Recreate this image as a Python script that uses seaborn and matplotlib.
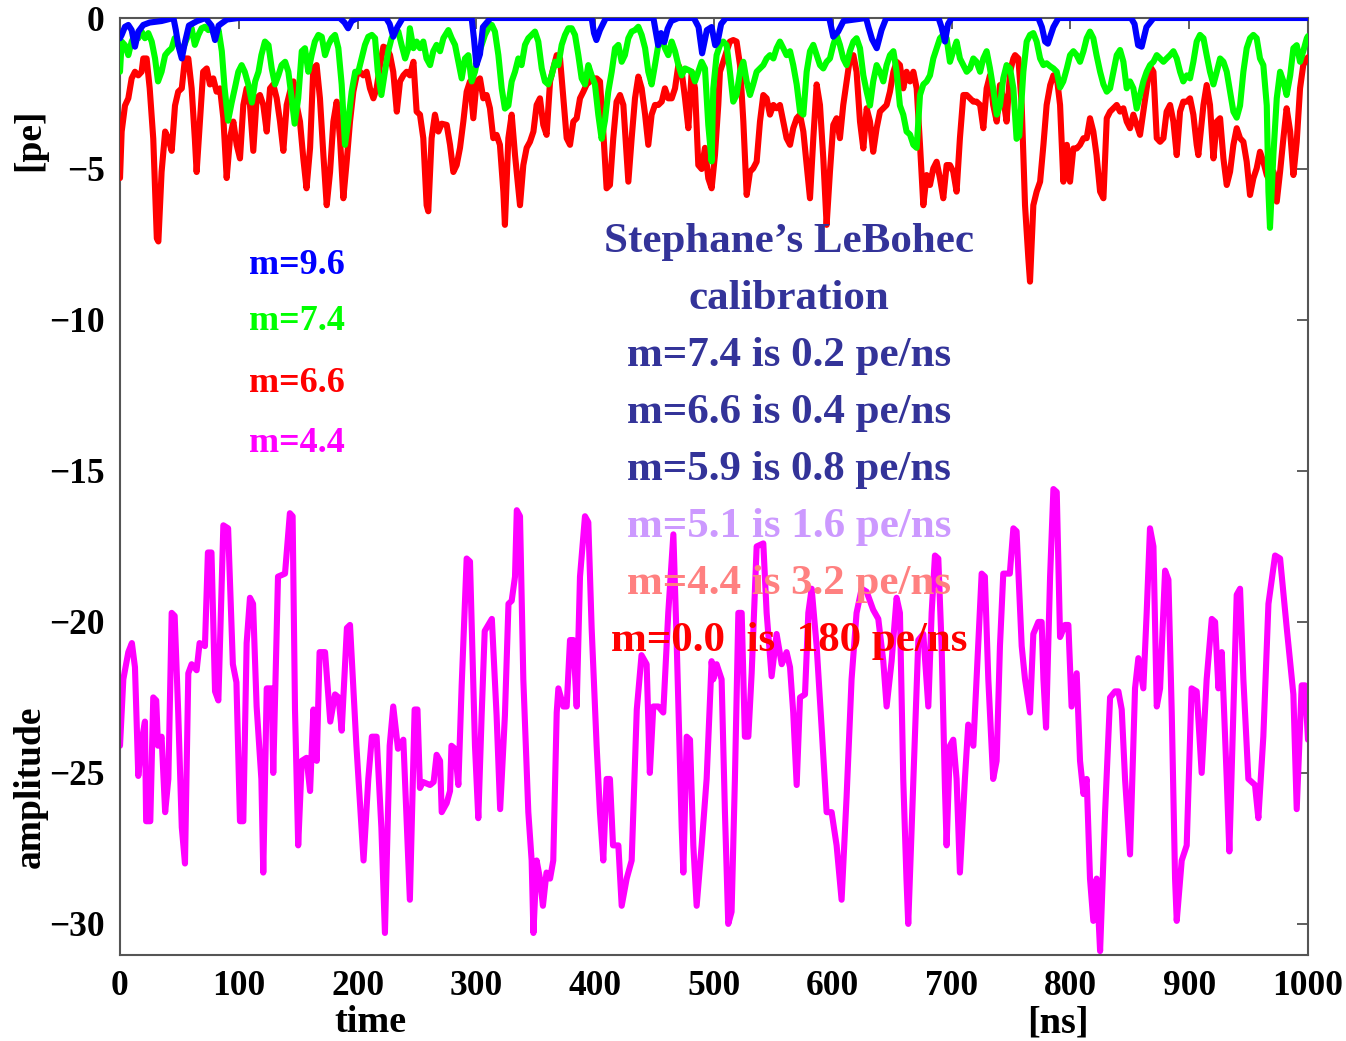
import matplotlib
matplotlib.use("Agg")
import matplotlib.pyplot as plt
import seaborn as sns
import pandas as pd

# ---------------- data ----------------
time_m = [0, 2.8, 7, 10, 12.6, 15.4, 18, 21, 22, 25.5, 28, 30.5, 32, 35, 38, 40.7, 43.5, 46, 49, 52, 54.7, 57.5, 60.3,
          64.5, 67, 71.5, 74, 77, 80, 82.8, 87, 91, 95, 98, 101, 103.8, 106.6, 109.4, 112, 115, 119, 120.6, 123.5,
          127.7, 129, 133, 138.9, 143, 145.3, 147.3, 150, 153, 157, 160, 162.8, 165.6, 168, 172.6, 177, 181, 184,
          186.6, 191, 193.6, 199, 205, 209, 212, 216, 220, 223, 227, 230, 234, 238.5, 244, 248, 250.4, 252.5, 255,
          261, 264, 266.5, 269.4, 270.8, 275, 277.8, 279, 282, 284.8, 287.6, 291.8, 294.6, 296, 298.8, 301.6, 304.4,
          307, 313, 317, 320, 324, 327, 329.7, 332.5, 334, 336.7, 339.5, 343.7, 346.5, 348, 350.7, 353.5, 356, 359,
          362, 364.7, 367.6, 369, 373.2, 376, 378.8, 381.6, 384.4, 387.2, 391.4, 394.2, 397, 401.2, 404, 406.8,
          409.6, 412.4, 415, 419.5, 422.3, 426.5, 430.7, 435, 439, 443.3, 446, 448.9, 453.1, 457.3, 461.5, 465.8,
          468.6, 472.8, 474.2, 477, 479.8, 482.6, 485.4, 489.6, 493.8, 498, 499.4, 502.2, 506.4, 509.2, 512, 514.8,
          517.6, 520.5, 523.3, 526, 528.9, 531.7, 535.9, 541.5, 544.3, 548.5, 552.7, 557, 561.1, 564, 566.7, 569.6,
          572.4, 576.6, 579.4, 582.2, 586.4, 590.6, 594.8, 599, 603.2, 607.4, 611.6, 615.8, 620, 624.3, 628.5, 634,
          638.3, 642.5, 645.3, 649.5, 653.7, 656.5, 659.3, 662, 663.5, 667.8, 672, 676.2, 680.4, 683.2, 686, 688.8,
          691.6, 694.4, 695.8, 698.6, 701.4, 704.2, 707, 711.2, 714, 718.3, 721, 725.3, 728, 730.9, 735, 737.9,
          740.7, 743.5, 749, 752, 754.7, 756.2, 759, 761.8, 766, 768.8, 773, 775.8, 777.3, 779.5, 782.9, 785.7,
          788.5, 791.3, 795.5, 798.3, 801, 805.3, 808.1, 811, 813.7, 816.5, 819.3, 822.1, 825, 829.2, 833.4, 837.6,
          840.4, 843.2, 846, 850.2, 854.4, 857.2, 861.4, 864.2, 867, 869.9, 872.7, 875.5, 879.7, 882.5, 885.3,
          888.1, 889.5, 893.7, 897.9, 902, 906.3, 910.5, 914.7, 919, 921.8, 924.6, 927.4, 931.6, 933.8, 937.2, 940,
          942.8, 945.6, 949.8, 955.4, 958.2, 962.4, 966.7, 972.3, 976.5, 982.1, 987.7, 990.5, 994.7, 997.5, 1000]
amp_m = [-24.1, -21.9, -21.0, -20.7, -21.5, -25.1, -24.0, -23.3, -26.6, -26.6, -22.5, -22.6, -24.1, -23.8, -26.3,
         -25.2, -19.7, -19.8, -23.0, -26.8, -28.0, -21.7, -21.4, -21.6, -20.7, -20.8, -17.7, -17.7, -22.3, -22.6,
         -16.8, -16.9, -21.4, -22.0, -26.6, -26.6, -20.7, -19.2, -19.4, -22.8, -25.2, -28.3, -22.2, -22.2, -25.0,
         -18.5, -18.4, -16.4, -16.5, -22.9, -27.4, -24.6, -24.5, -25.6, -22.9, -24.6, -21.0, -21.0, -23.3, -22.4,
         -22.5, -23.6, -20.2, -20.1, -24.1, -27.9, -25.2, -23.8, -23.8, -26.8, -30.3, -24.1, -22.8, -24.2, -23.9,
         -29.2, -22.9, -22.9, -25.5, -25.3, -25.4, -25.3, -24.4, -24.6, -26.3, -26.0, -25.6, -24.1, -24.2, -25.4,
         -22.1, -17.9, -18.0, -20.0, -24.1, -26.5, -23.1, -20.3, -19.9, -23.1, -26.2, -23.1, -19.4, -19.3, -18.5,
         -16.3, -16.5, -21.9, -26.3, -27.9, -30.3, -27.9, -28.5, -29.4, -28.3, -28.5, -27.9, -23.0, -22.2, -22.8,
         -22.8, -20.6, -20.6, -22.8, -18.5, -16.5, -16.7, -20.2, -24.1, -26.3, -27.9, -25.2, -25.2, -27.4, -27.4,
         -29.4, -28.5, -27.9, -22.9, -21.1, -21.4, -25.0, -22.8, -22.8, -23.0, -19.7, -17.1, -20.7, -26.8, -28.3,
         -23.8, -23.9, -27.4, -29.4, -27.4, -25.2, -21.3, -21.9, -21.4, -21.9, -26.3, -30.0, -29.6, -25.2, -19.7,
         -19.7, -23.8, -23.8, -21.7, -17.5, -17.4, -19.7, -21.8, -20.4, -21.4, -21.0, -21.5, -23.0, -25.4, -22.5,
         -22.4, -19.7, -18.9, -20.8, -23.5, -26.3, -26.3, -27.4, -29.2, -25.8, -21.9, -19.7, -18.9, -19.0, -19.6,
         -19.9, -21.3, -22.8, -21.3, -19.2, -19.7, -25.2, -28.5, -30.0, -25.2, -20.6, -20.4, -22.8, -19.7, -17.8,
         -17.9, -20.8, -25.5, -27.4, -24.1, -23.9, -25.2, -28.3, -25.2, -23.4, -24.1, -21.9, -18.4, -18.5, -21.9,
         -25.2, -24.6, -20.8, -18.4, -18.4, -16.9, -17.0, -18.3, -20.8, -21.9, -23.0, -20.4, -20.0, -20.0, -21.9,
         -23.5, -18.5, -15.6, -15.7, -20.5, -20.1, -20.1, -22.8, -21.7, -24.6, -25.7, -25.2, -28.5, -29.9, -28.5,
         -30.9, -26.3, -22.5, -22.3, -22.3, -22.9, -25.2, -27.7, -22.2, -21.2, -22.2, -19.7, -16.9, -17.5, -22.8,
         -22.2, -18.3, -18.6, -23.0, -28.5, -29.9, -27.9, -27.4, -22.2, -22.3, -25.0, -21.9, -19.9, -20.0, -22.2,
         -21.0, -25.2, -27.6, -22.9, -19.1, -18.9, -21.9, -25.2, -25.4, -26.5, -23.8, -19.4, -17.8, -17.9, -20.2,
         -22.4, -26.2, -22.1, -22.1, -23.9]

time_r = [0, 1.4, 4.2, 7, 9.8, 12.6, 15.4, 18.2, 19.6, 22.4, 25, 28, 31, 32.3, 35, 38, 40.7, 43.5, 46.3, 49, 52,
          54.7, 57.5, 60.3, 63, 64.5, 67.3, 70, 73, 75.7, 78.5, 81.3, 84.2, 87, 89.8, 92.6, 95.4, 98.2, 101, 103.8,
          106.6, 109.4, 112.2, 115, 117.8, 120.6, 123.5, 126.3, 129, 131.9, 134.7, 137.5, 140.3, 143.1, 146, 148.7,
          151.5, 154.3, 157, 160, 162.7, 165.5, 168.3, 171.2, 174, 176.8, 179.6, 182.4, 185.2, 188, 190.8, 193.6,
          196.4, 199.2, 202, 204.8, 207.6, 210.4, 213.3, 216, 218.9, 221.7, 224.5, 227.3, 230, 233, 235.7, 238.5,
          241.3, 244, 247, 249.7, 252.5, 255.3, 258.1, 259.5, 262.3, 265.1, 268, 270.8, 275, 277.8, 280.6, 283.4,
          286.2, 289, 291.8, 294.6, 297.4, 300.2, 303, 305.8, 308.6, 311.4, 314.2, 317, 319.8, 322.7, 324, 326.9,
          329.7, 332.5, 335.3, 336.7, 339.5, 342.3, 345.1, 348, 350.7, 353.5, 356.3, 359.1, 362, 364.7, 367.6, 370.4,
          373.2, 376, 378.8, 381.6, 384.4, 387.2, 390, 392.8, 395.6, 398.4, 401.2, 404, 406.8, 409.6, 412.4, 415.2,
          418, 420.9, 423.7, 426.5, 427.9, 430.7, 433.5, 436.3, 439.1, 442, 444.7, 447.5, 450.3, 453.1, 456, 458.7,
          461.5, 464.4, 467.2, 470, 472.8, 475.6, 478.4, 481.2, 484, 486.8, 489.6, 492.4, 495.2, 498, 500.8, 503.6,
          505, 507.8, 510.6, 513.4, 516.2, 519, 521.9, 524.7, 527.5, 530.3, 533, 535.9, 538.7, 541.5, 544.3, 547.1,
          550, 552.7, 555.5, 558.3, 561.1, 564, 566.7, 569.6, 572.4, 575.2, 578, 580.8, 583.6, 586.4, 589.2, 592,
          594.8, 597.6, 600.4, 603.2, 606, 608.8, 611.6, 614.4, 617.3, 620, 622.9, 625.7, 628.5, 631.3, 634, 636.9,
          639.7, 642.5, 645.3, 648.1, 651, 653.7, 656.5, 659.3, 662.1, 665, 667.8, 670.6, 673.4, 676.2, 679, 681.8,
          684.6, 687.4, 690.2, 693, 695.8, 698.6, 701.4, 704.2, 707, 709.9, 712.7, 715.5, 718.3, 721, 724, 726.7,
          729.5, 732.3, 735, 738, 740.7, 743.5, 746.3, 749.2, 752, 753.4, 756.2, 759, 761.8, 764.6, 766, 768.8, 771.6,
          774.5, 777.3, 780, 783, 785.7, 788.5, 791.3, 794.1, 797, 799.7, 802.5, 805.3, 808.1, 811, 813.7, 816.5,
          819.3, 822, 825, 827.8, 830.6, 833.4, 836.2, 839, 841.8, 844.6, 847.4, 850.2, 853, 855.8, 858.6, 861.4,
          864.2, 867, 869.9, 872.7, 875.5, 878.3, 881, 883.9, 886.7, 889.5, 892.3, 895, 898, 900.7, 903.5, 906.3,
          907.7, 912, 914.7, 917.5, 920.4, 923.2, 926, 928.8, 931.6, 934.4, 937.2, 940, 942.8, 945.6, 948.4, 951.2,
          954, 956.8, 959.6, 962.4, 965.3, 968, 971, 973.7, 976.5, 979.3, 982, 985, 987.7, 990.5, 993.3, 996, 999,
          1000]
amp_r = [-5.3, -3.76, -2.9, -2.66, -2.0, -1.78, -1.9, -1.78, -1.34, -1.34, -2.33, -4.0, -7.3, -7.4, -5.1, -3.76,
         -4.0, -4.4, -2.9, -2.44, -2.33, -1.34, -1.34, -2.33, -4.0, -5.1, -3.43, -1.78, -1.67, -2.2, -2.0, -2.44,
         -2.33, -3.32, -5.3, -3.98, -3.43, -4.2, -4.65, -2.88, -2.33, -2.88, -4.4, -2.66, -2.55, -2.88, -3.76,
         -2.33, -2.2, -2.66, -3.43, -4.4, -2.88, -2.44, -2.1, -2.88, -3.43, -4.65, -5.64, -4.3, -1.67, -1.56,
         -2.66, -4.54, -6.2, -5.1, -3.43, -2.77, -3.98, -5.97, -4.76, -3.43, -2.44, -1.9, -1.78, -1.9, -1.78,
         -2.33, -2.66, -2.33, -1.56, -0.95, -1.0, -1.23, -1.78, -3.1, -2.1, -1.9, -1.78, -1.9, -1.45, -3.1, -3.2,
         -3.98, -6.2, -6.4, -3.98, -3.2, -3.76, -3.5, -3.54, -4.2, -5.1, -4.87, -4.3, -3.43, -2.44, -2.1, -3.32,
         -2.1, -2.0, -2.66, -2.55, -2.99, -3.98, -3.87, -4.2, -5.75, -6.85, -3.98, -3.2, -4.54, -5.64, -6.2,
         -4.87, -4.3, -4.1, -3.76, -2.88, -2.66, -3.54, -3.87, -2.1, -1.67, -1.23, -1.34, -2.66, -3.98, -4.2,
         -3.43, -3.32, -2.66, -2.44, -2.2, -2.1, -2.0, -2.0, -2.1, -3.76, -5.64, -5.53, -3.98, -2.77, -2.55,
         -2.88, -4.54, -5.42, -3.98, -2.66, -1.94, -2.33, -3.2, -4.2, -3.2, -2.88, -2.88, -2.77, -2.33, -2.66,
         -2.66, -2.33, -1.56, -1.78, -2.66, -3.65, -1.78, -2.33, -4.87, -5.0, -4.3, -5.31, -5.64, -4.54, -2.88,
         -1.78, -1.45, -1.1, -0.78, -0.73, -0.78, -1.56, -3.43, -5.86, -5.09, -4.98, -4.76, -3.43, -2.55, -2.66,
         -3.2, -2.88, -2.99, -2.88, -3.43, -3.98, -4.2, -3.65, -3.32, -3.2, -3.76, -4.87, -5.97, -3.98, -2.2,
         -2.88, -4.65, -6.85, -5.09, -3.54, -3.32, -3.98, -2.88, -2.1, -1.34, -1.23, -1.78, -3.43, -4.32, -2.99,
         -3.43, -4.43, -3.65, -3.1, -2.99, -2.88, -2.44, -1.78, -1.45, -1.56, -2.33, -1.78, -2.1, -1.78, -2.33,
         -4.2, -6.2, -5.2, -5.53, -4.98, -4.76, -5.31, -5.97, -4.87, -4.87, -5.09, -5.75, -3.98, -2.55, -2.55,
         -2.66, -2.77, -2.77, -2.88, -3.65, -2.33, -1.9, -2.88, -3.43, -2.22, -2.66, -3.43, -1.78, -1.34, -1.23,
         -1.34, -2.88, -6.2, -7.96, -8.73, -6.2, -5.75, -5.42, -4.2, -2.88, -2.22, -1.9, -1.94, -2.88, -5.42,
         -4.2, -5.42, -4.32, -4.32, -4.2, -3.98, -3.98, -3.32, -3.76, -4.54, -5.75, -5.97, -3.32, -3.1, -2.99,
         -2.88, -3.1, -2.99, -3.43, -3.65, -3.2, -3.54, -3.87, -3.1, -2.33, -1.6, -1.78, -3.98, -4.1, -3.98, -3.1,
         -2.88, -3.43, -4.54, -3.1, -2.77, -2.77, -2.66, -3.2, -4.2, -4.54, -2.88, -2.22, -2.88, -4.65, -3.43,
         -3.32, -4.65, -5.53, -5.09, -4.2, -3.65, -3.98, -4.1, -4.76, -5.86, -5.31, -4.98, -4.43, -4.76, -5.2,
         -5.42, -5.09, -6.08, -5.09, -3.98, -2.99, -3.76, -5.2, -4.1, -2.33, -1.56, -1.34, -1.3]

time_g = [0, 1.4, 4.2, 7, 9.8, 12.6, 15.4, 18.2, 21, 23.8, 26.7, 29.5, 32, 35, 38, 40.7, 43.5, 46, 49, 52, 54.7,
          57.5, 60.3, 63, 66, 68.7, 71.5, 74.3, 77, 80, 83, 85.7, 88, 91, 94, 96.8, 99.6, 102.4, 105, 108, 111,
          113.8, 116.6, 119, 122, 125, 127.7, 130.5, 133.3, 136, 139, 141.7, 144.5, 147, 150, 153, 155.7, 158.5,
          161.3, 164, 167, 169.8, 172.6, 175.4, 178.2, 181, 183.8, 186.6, 189.4, 192.2, 195, 198, 200.6, 203.4,
          206.2, 209, 212, 214.7, 217, 220, 223, 225.8, 228.6, 231.5, 234.3, 237, 240, 242.7, 244, 247, 249.7,
          252.5, 255.3, 258, 261, 263.7, 266.5, 269.4, 272.2, 276.4, 279.2, 282, 284.8, 287.6, 290.4, 293.2, 296,
          298.8, 301.6, 304.4, 307.2, 310, 313, 315.6, 318.5, 321.3, 324, 326.9, 329.7, 332.5, 335.3, 338, 340.9,
          343.7, 346.5, 349.3, 352.1, 355, 357.7, 360.5, 363.3, 366.2, 369, 371.8, 374.6, 377.4, 380.2, 383, 385.8,
          388.6, 391.4, 394.2, 397, 399.8, 402.6, 405.4, 408.2, 411, 413.9, 416.7, 419.5, 422.3, 425, 427.9, 430.7,
          433.5, 436.3, 439.1, 442, 444.7, 447.5, 450.3, 453.1, 456, 458.7, 461.5, 464.4, 467.2, 470, 472.8, 475.6,
          478.4, 481.2, 484, 486.8, 489.6, 492.4, 495.2, 498, 499.4, 502.2, 505, 507.8, 510.6, 513.4, 516.2, 519,
          521.9, 524.7, 527.5, 530.3, 533, 535.9, 538.7, 541.5, 544.3, 547.1, 550, 552.7, 555.5, 558.3, 561.1, 564,
          566.7, 569.6, 572.4, 575.2, 578, 580.8, 583.6, 586.4, 589.2, 592, 594.8, 597.6, 600.4, 603.2, 606, 608.8,
          611.6, 614.4, 617.3, 620, 622.9, 625.7, 628.5, 631.3, 634, 636.9, 639.7, 642.5, 645.3, 648.1, 651, 653.7,
          656.5, 659.3, 662.1, 665, 667.8, 670.6, 673.4, 676.2, 679, 681.8, 684.6, 687.4, 690.2, 693, 695.8, 698.6,
          701.4, 704.2, 707, 709.9, 712.7, 715.5, 718.3, 721, 724, 726.7, 729.5, 732.3, 735, 738, 740.7, 743.5,
          746.3, 749.2, 752, 754.7, 757, 760.4, 763.2, 766, 768.8, 771.6, 774.5, 777.3, 780, 783, 785.7, 788.5,
          791.3, 794, 797, 799.7, 802.5, 805.3, 808.1, 811, 813.7, 816.5, 819.3, 822, 825, 827.8, 830.6, 833.4,
          836.2, 839, 841.8, 844.6, 847.4, 850.2, 853, 855.8, 858.6, 861.4, 864.2, 867, 869.9, 872.7, 875.5, 878.3,
          881, 883.9, 886.7, 889.5, 892.3, 895, 898, 900.7, 903.5, 906.3, 909.1, 912, 914.7, 917.5, 920.4, 923.2,
          926, 928.8, 931.6, 934.4, 937.2, 940, 942.8, 945.6, 948.4, 951.2, 954, 956.8, 959.6, 962.4, 965.3, 966.7,
          968, 970.9, 973.7, 976.5, 979.3, 982, 985, 987.7, 990.5, 993.3, 996, 999, 1000]
amp_g = [-1.78, -0.78, -0.9, -1.23, -0.78, -0.56, -0.67, -0.45, -0.67, -0.5, -0.78, -1.34, -2.1, -1.78, -1.23,
         -1.1, -1.0, -0.67, -0.89, -1.1, -0.84, -0.56, -0.34, -0.89, -0.56, -0.34, -0.29, -0.4, -0.34, -0.62,
         -0.4, -1.1, -2.3, -3.4, -2.8, -2.3, -1.78, -1.56, -1.78, -2.2, -2.8, -2.1, -1.78, -1.23, -0.78, -0.9,
         -1.67, -2.2, -1.9, -1.56, -1.45, -1.78, -2.66, -3.5, -2.66, -1.1, -1.0, -1.78, -1.23, -0.78, -0.56,
         -0.62, -1.23, -0.89, -0.67, -0.56, -1.0, -2.2, -4.2, -3.4, -2.44, -1.78, -1.78, -1.34, -0.89, -0.62,
         -0.56, -0.67, -1.78, -2.55, -1.78, -1.1, -0.67, -0.45, -0.45, -0.89, -1.34, -1.0, -0.34, -1.0, -0.78,
         -1.0, -0.78, -1.34, -1.56, -1.1, -0.89, -1.1, -0.67, -0.4, -0.67, -0.89, -1.45, -2.0, -1.34, -1.23,
         -2.1, -1.78, -1.23, -0.89, -0.56, -0.34, -0.23, -0.45, -1.23, -2.33, -3.0, -2.9, -2.1, -1.78, -1.34,
         -1.56, -0.89, -0.67, -0.56, -0.45, -0.78, -1.67, -2.1, -2.2, -1.9, -1.45, -1.56, -0.89, -0.56, -0.34,
         -0.34, -0.56, -1.23, -2.0, -2.2, -1.56, -1.9, -2.2, -3.2, -4.0, -3.4, -2.44, -1.78, -1.0, -0.89, -1.45,
         -1.23, -0.67, -0.45, -0.4, -0.29, -0.56, -1.0, -1.78, -2.2, -1.56, -0.89, -0.67, -1.0, -1.23, -0.78,
         -1.1, -1.56, -1.9, -1.67, -1.72, -1.78, -2.1, -1.78, -1.45, -1.67, -3.54, -4.75, -2.33, -1.23, -0.9,
         -0.78, -0.9, -1.78, -2.77, -2.55, -1.78, -1.45, -2.1, -2.55, -2.2, -1.78, -1.67, -1.56, -1.34, -1.23,
         -1.34, -1.0, -0.78, -1.0, -1.23, -1.1, -1.56, -2.2, -3.1, -3.2, -1.78, -1.1, -0.89, -1.23, -1.56, -1.67,
         -1.45, -1.34, -0.89, -0.56, -0.89, -1.34, -1.56, -1.1, -0.78, -0.67, -1.0, -1.9, -2.44, -2.9, -2.1,
         -1.56, -1.78, -2.1, -1.56, -1.23, -1.1, -1.78, -2.9, -3.2, -3.76, -3.86, -4.2, -4.3, -2.55, -2.2, -2.1,
         -1.9, -1.34, -1.0, -0.67, -0.56, -0.67, -1.45, -1.1, -0.78, -1.34, -1.56, -1.78, -1.67, -1.34, -1.45,
         -1.78, -1.34, -1.1, -1.67, -2.33, -3.2, -2.9, -2.0, -1.56, -1.67, -2.33, -4.0, -3.9, -1.78, -0.78,
         -0.56, -0.5, -0.78, -1.34, -1.56, -1.5, -1.6, -1.67, -1.78, -2.3, -2.1, -1.67, -1.23, -1.1, -1.23,
         -1.45, -1.1, -0.67, -0.45, -0.67, -1.23, -1.78, -2.2, -2.44, -2.33, -1.78, -1.23, -1.06, -1.45, -2.33,
         -2.1, -2.33, -3.0, -2.55, -2.1, -1.78, -1.56, -1.45, -1.23, -1.34, -1.45, -1.34, -1.23, -1.1, -1.34,
         -1.78, -2.1, -1.9, -2.0, -1.45, -0.78, -0.56, -0.67, -1.23, -1.78, -2.2, -1.78, -1.34, -1.45, -1.78,
         -2.44, -3.1, -3.3, -2.9, -1.78, -1.0, -0.67, -0.56, -0.67, -1.34, -1.56, -2.9, -5.75, -6.95, -4.5,
         -2.66, -1.78, -2.1, -2.55, -1.9, -1.0, -0.9, -1.45, -1.1, -0.67, -0.6]

time_b = [0, 1.4, 4.2, 7, 9.8, 12.6, 15.4, 19.6, 25, 35, 45, 47, 49, 52, 54.7, 58, 65, 72, 77, 80, 83, 90, 100,
          185, 189, 192, 195, 200, 224, 227, 230, 233.5, 238, 296, 298, 300, 303, 305.5, 312, 397, 399, 401, 404,
          409, 449, 450.3, 453, 455.4, 458.2, 461, 464, 470, 483, 487, 490, 494, 498, 501, 503, 506, 510, 597,
          600.4, 604.5, 609, 628, 630, 633, 637, 641, 645, 689, 691.5, 694.4, 697, 700, 773, 776, 778.7, 781,
          785.7, 790, 851, 854, 857, 860, 864, 870, 1000]
amp_b = [-0.67, -0.56, -0.29, -0.23, -0.4, -0.95, -0.45, -0.23, -0.15, -0.1, 0, -0.4, -0.9, -1.34, -0.8, -0.25,
         -0.1, 0, -0.25, -0.73, -0.25, -0.05, 0, 0, -0.15, -0.34, -0.1, 0, 0, -0.2, -0.62, -0.3, 0, 0, -0.7,
         -1.56, -1.2, -0.3, 0, 0, -0.5, -0.73, -0.4, 0, 0, -0.3, -0.9, -0.5, -0.8, -0.35, -0.1, 0, 0, -0.3,
         -1.17, -0.4, -0.3, -0.9, -0.8, -0.2, 0, 0, -0.62, -0.45, -0.1, 0, -0.3, -0.7, -1.0, -0.4, 0, 0, -0.3,
         -0.78, -0.2, 0, 0, -0.3, -0.78, -0.85, -0.3, 0, 0, -0.2, -0.9, -0.95, -0.3, 0, 0]

x_ticks = [0, 100, 200, 300, 400, 500, 600, 700, 800, 900, 1000]
y_ticks = [0, -5, -10, -15, -20, -25, -30]

legend_labels = ["m=9.6", "m=7.4", "m=6.6", "m=4.4"]
note_lines = ["Stephane\u2019s LeBohec", "calibration", "m=7.4 is 0.2 pe/ns", "m=6.6 is 0.4 pe/ns",
              "m=5.9 is 0.8 pe/ns", "m=5.1 is 1.6 pe/ns", "m=4.4 is 3.2 pe/ns", "m=0.0  is  180 pe/ns"]

# ---------------- styling ----------------
sns.set_theme(style="white")
plt.rcParams["font.family"] = ["Liberation Serif", "DejaVu Serif"]
plt.rcParams["axes.unicode_minus"] = True

c_blue, c_green, c_red, c_mag = "#0000ff", "#00ff00", "#ff0000", "#ff00ff"
navy = "#333399"

fig = plt.figure(figsize=(13.46, 10.41), dpi=100)
ax = fig.add_axes([120 / 1346, 1 - 955 / 1041, (1308 - 120) / 1346, (955 - 18) / 1041])

lw = 4.4
series = [(time_m, amp_m, c_mag), (time_r, amp_r, c_red), (time_g, amp_g, c_green), (time_b, amp_b, c_blue)]
for i, (t, a, c) in enumerate(series):
    df = pd.DataFrame({"time": t, "amp": a})
    sns.lineplot(data=df, x="time", y="amp", color=c, lw=lw, ax=ax, sort=False,
                 estimator=None, legend=False, zorder=2 + i)

ax.set_xlim(0, 1000)
ax.set_ylim(-31.03, 0)
ax.set_xticks(x_ticks)
ax.set_yticks(y_ticks)
ax.set_xlabel("")
ax.set_ylabel("")
ax.tick_params(direction="in", length=8, width=1.1, color="#333333", top=True, right=True,
               labelsize=25.5, pad=11, labelcolor="black")
for lab in ax.get_xticklabels() + ax.get_yticklabels():
    lab.set_fontweight("bold")
for sp in ax.spines.values():
    sp.set_color("#555555")
    sp.set_linewidth(1.5)

# legend-like labels
leg_colors = [c_blue, c_green, c_red, c_mag]
leg_y = [265, 322, 383, 443]
for lab, c, yy in zip(legend_labels, leg_colors, leg_y):
    fig.text(297 / 1346, 1 - yy / 1041, lab, color=c, fontsize=26, fontweight="bold",
             ha="center", va="center", zorder=10)

# annotation block
note_colors = [navy, navy, navy, navy, navy, "#cc99ff", "#ff8080", "#ff0000"]
note_y = [242, 299, 356, 413, 470, 527, 584, 641]
for txt, c, yy in zip(note_lines, note_colors, note_y):
    fig.text(789 / 1346, 1 - yy / 1041, txt, color=c, fontsize=31, fontweight="bold",
             ha="center", va="center", zorder=10)

# axis labels
fig.text(370 / 1346, 1 - 1023 / 1041, "time", fontsize=27.5, fontweight="bold", color="black",
         ha="center", va="center")
fig.text(1058 / 1346, 1 - 1023 / 1041, "[ns]", fontsize=27.5, fontweight="bold", color="black",
         ha="center", va="center")
fig.text(30 / 1346, 1 - 787 / 1041, "amplitude", fontsize=27, fontweight="bold", rotation=90, color="black",
         ha="center", va="center")
fig.text(30 / 1346, 1 - 140 / 1041, "[pe]", fontsize=27, fontweight="bold", rotation=90, color="black",
         ha="center", va="center")

fig.savefig("out.png", dpi=100)
